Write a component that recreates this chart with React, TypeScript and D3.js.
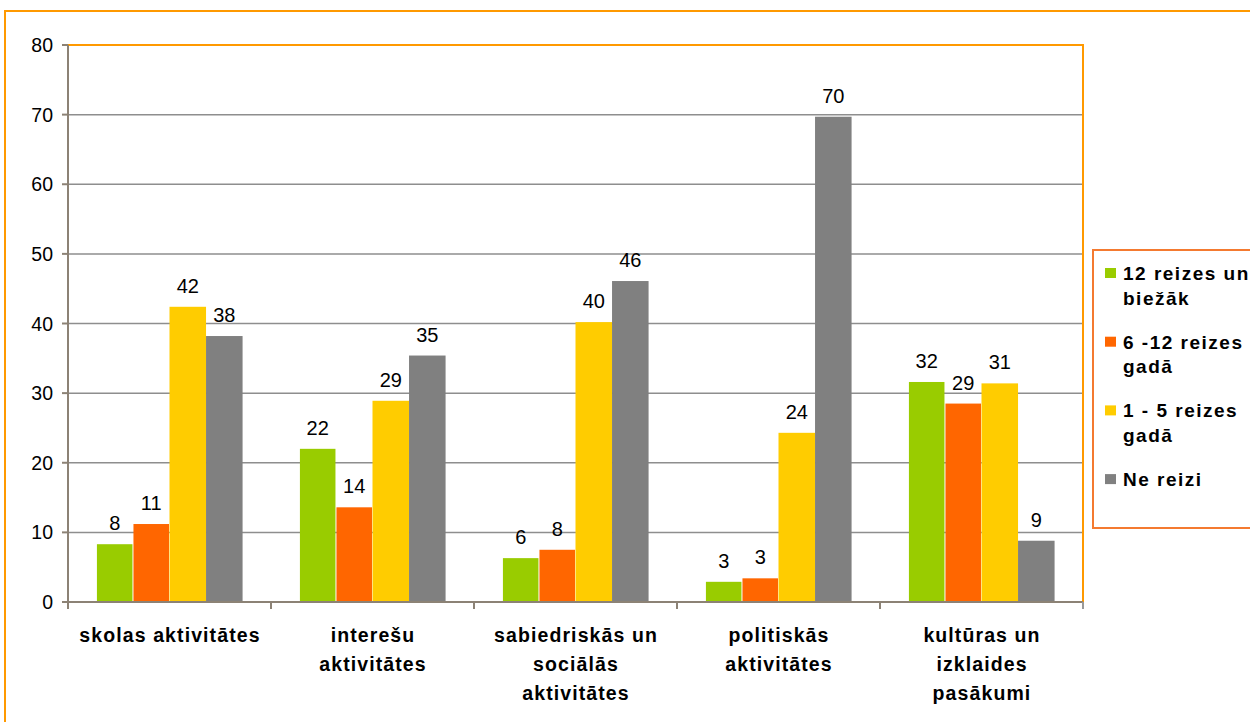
import React from "react";
import * as d3 from "d3";

const categories: string[][] = [
  ["skolas aktivitātes"],
  ["interešu", "aktivitātes"],
  ["sabiedriskās un", "sociālās", "aktivitātes"],
  ["politiskās", "aktivitātes"],
  ["kultūras un", "izklaides", "pasākumi"],
];

const seriesNames: string[][] = [
  ["12 reizes un", "biežāk"],
  ["6 -12 reizes", "gadā"],
  ["1 - 5 reizes", "gadā"],
  ["Ne reizi"],
];

const seriesColors = ["#99CC00", "#FF6600", "#FFCC00", "#808080"];

// values per series across categories
const s12orMore = [8.3, 22.0, 6.3, 2.9, 31.6];
const s6to12 = [11.2, 13.6, 7.5, 3.4, 28.5];
const s1to5 = [42.4, 28.9, 40.2, 24.3, 31.4];
const sNever = [38.2, 35.4, 46.1, 69.7, 8.8];
const seriesValues = [s12orMore, s6to12, s1to5, sNever];

const yTicks = [0, 10, 20, 30, 40, 50, 60, 70, 80];

export default function App() {
  const W = 1250;
  const H = 722;
  const left = 68;
  const right = 1083;
  const top = 45;
  const bottom = 602;

  const x0 = d3
    .scaleBand<number>()
    .domain(categories.map((_, i) => i))
    .range([left, right])
    .paddingInner(0.28)
    .paddingOuter(0.14);
  const x1 = d3
    .scaleBand<number>()
    .domain(seriesValues.map((_, i) => i))
    .range([0, x0.bandwidth()]);
  const y = d3.scaleLinear().domain([0, 80]).range([bottom, top]);
  const step = (right - left) / categories.length;

  const axisColor = "#8C8275";
  const gridColor = "#8E8E8E";
  const frameOrange = "#FF9900";

  return (
    <svg
      width={W}
      height={H}
      style={{ position: "absolute", left: 0, top: 0, background: "#fff" }}
    >
      {/* outer frame */}
      <line x1={4} y1={11} x2={W + 5} y2={11} stroke={frameOrange} strokeWidth={2} />
      <line x1={5} y1={10} x2={5} y2={H + 5} stroke={frameOrange} strokeWidth={2} />

      {/* gridlines */}
      {yTicks.map((t) => (
        <line
          key={"g" + t}
          x1={left}
          x2={right}
          y1={y(t)}
          y2={y(t)}
          stroke={gridColor}
          strokeWidth={1.5}
        />
      ))}

      {/* bars */}
      {seriesValues.map((vals, si) =>
        vals.map((v, ci) => (
          <rect
            key={`b${si}-${ci}`}
            x={(x0(ci) ?? 0) + (x1(si) ?? 0) + (si < 2 ? 0.5 : 0)}
            y={y(v)}
            width={x1.bandwidth() - (si < 2 ? 1 : 0)}
            height={bottom - y(v)}
            fill={seriesColors[si]}
          />
        ))
      )}

      {/* data labels */}
      {seriesValues.map((vals, si) =>
        vals.map((v, ci) => (
          <text
            key={`l${si}-${ci}`}
            x={(x0(ci) ?? 0) + (x1(si) ?? 0) + x1.bandwidth() / 2}
            y={y(v) - 14}
            textAnchor="middle"
            fontFamily="'Liberation Sans', Arial, sans-serif"
            fontSize={20}
            fill="#000"
          >
            {Math.round(v)}
          </text>
        ))
      )}

      {/* plot area orange border top & right */}
      <line x1={left} x2={right + 1} y1={top} y2={top} stroke={frameOrange} strokeWidth={2} />
      <line x1={right} x2={right} y1={top} y2={bottom} stroke={frameOrange} strokeWidth={2} />

      {/* y axis */}
      <line x1={left} x2={left} y1={top} y2={bottom + 6} stroke={axisColor} strokeWidth={2} />
      {yTicks.map((t) => (
        <g key={"yt" + t}>
          <line x1={left - 6} x2={left} y1={y(t)} y2={y(t)} stroke={axisColor} strokeWidth={2} />
          <text
            x={left - 15}
            y={y(t) + 7}
            textAnchor="end"
            fontFamily="'Liberation Sans', Arial, sans-serif"
            fontSize={19.5}
            fill="#000"
          >
            {t}
          </text>
        </g>
      ))}

      {/* x axis */}
      <line x1={left} x2={right} y1={bottom} y2={bottom} stroke={axisColor} strokeWidth={2} />
      {d3.range(categories.length + 1).map((i) => (
        <line
          key={"xt" + i}
          x1={left + i * step}
          x2={left + i * step}
          y1={bottom}
          y2={bottom + 7}
          stroke={i === categories.length ? "#999" : axisColor}
          strokeWidth={2}
        />
      ))}

      {/* category labels */}
      {categories.map((lines, ci) => (
        <text
          key={"c" + ci}
          textAnchor="middle"
          fontFamily="'Liberation Sans', Arial, sans-serif"
          fontWeight="bold"
          fontSize={19.5}
          letterSpacing={1.1}
          fill="#000"
        >
          {lines.map((ln, li) => (
            <tspan
              key={li}
              x={(x0(ci) ?? 0) + x0.bandwidth() / 2 + 0.5}
              y={642 + li * 29}
            >
              {ln}
            </tspan>
          ))}
        </text>
      ))}

      {/* legend */}
      <rect
        x={1093}
        y={250}
        width={200}
        height={278}
        fill="#fff"
        stroke="#F47A30"
        strokeWidth={2}
      />
      {seriesNames.map((lines, si) => (
        <g key={"lg" + si}>
          <rect
            x={1105}
            y={268 + si * 68.7}
            width={11}
            height={10}
            fill={seriesColors[si]}
          />
          <text
            fontFamily="'Liberation Sans', Arial, sans-serif"
            fontWeight="bold"
            fontSize={19}
            letterSpacing={1.5}
            fill="#000"
          >
            {lines.map((ln, li) => (
              <tspan key={li} x={1123} y={280 + si * 68.7 + li * 24.5}>
                {ln}
              </tspan>
            ))}
          </text>
        </g>
      ))}
    </svg>
  );
}
